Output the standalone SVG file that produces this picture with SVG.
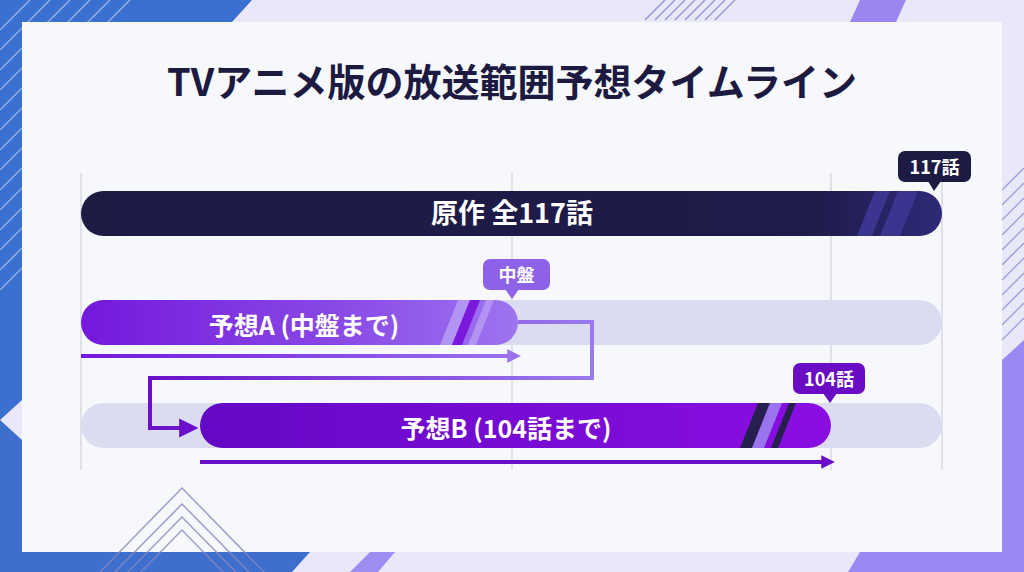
<svg xmlns="http://www.w3.org/2000/svg" width="1024" height="572" viewBox="0 0 1024 572">
  <defs>
    <style>
      .t { font-family: "Noto Sans CJK JP", "Noto Sans", sans-serif; font-weight: 700; }
      .grid { stroke: #c9c9d8; stroke-width: 1; }
      .track { fill: #dcdcf0; }
      .lbl { fill: #ffffff; text-anchor: middle; }
      .hatch { stroke: #ffffff; stroke-opacity: 0.45; stroke-width: 1.5; }
      .hatch2 { stroke: #8a86b8; stroke-width: 1.5; fill: none; }
    </style>
    <linearGradient id="gNavy" x1="0" x2="1" y1="0" y2="0">
      <stop offset="0" stop-color="#1d1a44"/>
      <stop offset="0.85" stop-color="#1f1b4a"/>
      <stop offset="1" stop-color="#2e2a78"/>
    </linearGradient>
    <linearGradient id="gA" x1="0" x2="1" y1="0" y2="0">
      <stop offset="0" stop-color="#7418dc"/>
      <stop offset="0.6" stop-color="#8a4ae6"/>
      <stop offset="1" stop-color="#9d74f0"/>
    </linearGradient>
    <linearGradient id="gB" x1="0" x2="1" y1="0" y2="0">
      <stop offset="0" stop-color="#6408c4"/>
      <stop offset="1" stop-color="#8a0ee2"/>
    </linearGradient>
    <linearGradient id="gArrA" x1="81" x2="522" y1="0" y2="0" gradientUnits="userSpaceOnUse">
      <stop offset="0" stop-color="#7418dc"/>
      <stop offset="1" stop-color="#9a72ee"/>
    </linearGradient>
    <linearGradient id="gConn" x1="150" x2="592" y1="0" y2="0" gradientUnits="userSpaceOnUse">
      <stop offset="0" stop-color="#6a10c8"/>
      <stop offset="1" stop-color="#9b7af0"/>
    </linearGradient>
    <clipPath id="c1"><rect x="81" y="191" width="861" height="45" rx="22.5"/></clipPath>
    <clipPath id="cA"><rect x="81" y="300" width="437" height="45" rx="22.5"/></clipPath>
    <clipPath id="cB"><rect x="200" y="403" width="631" height="45" rx="22.5"/></clipPath>
    <marker id="mA" viewBox="0 0 10 10" refX="2" refY="5" markerWidth="3.4" markerHeight="3.8" orient="auto" markerUnits="strokeWidth">
      <path d="M0,0 L10,5 L0,10 z" fill="#9a72ee"/>
    </marker>
    <marker id="mB" viewBox="0 0 10 10" refX="2" refY="5" markerWidth="3.4" markerHeight="3.8" orient="auto" markerUnits="strokeWidth">
      <path d="M0,0 L10,5 L0,10 z" fill="#6a0dc8"/>
    </marker>
    <marker id="mC" viewBox="0 0 10 10" refX="2" refY="5" markerWidth="4.8" markerHeight="5.4" orient="auto" markerUnits="strokeWidth">
      <path d="M0,0 L10,5 L0,10 z" fill="#6a10c8"/>
    </marker>
  </defs>

  <!-- background -->
  <rect x="0" y="0" width="1024" height="572" fill="#e9e8f8"/>
  <g id="bg-decor">
    <polygon points="0,0 252,0 232,22 22,22 22,400 0,420" fill="#3b6fd0"/>
    <g class="hatch">
      <line x1="0" y1="30" x2="30" y2="0"/><line x1="0" y1="50" x2="50" y2="0"/>
      <line x1="0" y1="70" x2="70" y2="0"/><line x1="0" y1="90" x2="90" y2="0"/>
      <line x1="0" y1="110" x2="110" y2="0"/><line x1="0" y1="130" x2="130" y2="0"/>
      <line x1="0" y1="150" x2="22" y2="128"/><line x1="0" y1="170" x2="22" y2="148"/>
      <line x1="0" y1="190" x2="22" y2="168"/><line x1="0" y1="210" x2="22" y2="188"/>
      <line x1="0" y1="230" x2="22" y2="208"/><line x1="0" y1="250" x2="22" y2="228"/>
      <line x1="0" y1="270" x2="22" y2="248"/><line x1="0" y1="290" x2="22" y2="268"/>
    </g>
    <polygon points="0,420 22,440 22,552 310,552 292,572 0,572" fill="#3f6fce"/>
    <polygon points="350,572 370,552 395,552 378,572" fill="#9d8df0"/>
    <g stroke="#9c95d8" stroke-width="1.5">
      <line x1="645" y1="20" x2="665" y2="0"/><line x1="655" y1="20" x2="675" y2="0"/>
      <line x1="665" y1="20" x2="685" y2="0"/><line x1="675" y1="20" x2="695" y2="0"/>
      <line x1="685" y1="20" x2="705" y2="0"/><line x1="695" y1="20" x2="715" y2="0"/>
      <line x1="705" y1="20" x2="725" y2="0"/><line x1="715" y1="20" x2="735" y2="0"/>
    </g>
    <polygon points="860,0 906,0 896,22 850,22" fill="#9b86f0"/>
    <g stroke="#a49ed8" stroke-width="1.5">
      <line x1="1002" y1="190" x2="1024" y2="168"/><line x1="1002" y1="205" x2="1024" y2="183"/>
      <line x1="1002" y1="220" x2="1024" y2="198"/><line x1="1002" y1="235" x2="1024" y2="213"/>
      <line x1="1002" y1="250" x2="1024" y2="228"/><line x1="1002" y1="265" x2="1024" y2="243"/>
      <line x1="1002" y1="280" x2="1024" y2="258"/><line x1="1002" y1="295" x2="1024" y2="273"/>
      <line x1="1002" y1="310" x2="1024" y2="288"/><line x1="1002" y1="325" x2="1024" y2="303"/>
      <line x1="1002" y1="340" x2="1024" y2="318"/>
    </g>
    <polygon points="1024,340 1002,360 1002,552 860,552 848,572 1024,572" fill="#9c88f2"/>
  </g>

  <!-- card -->
  <rect x="22" y="22" width="980" height="530" fill="#f6f8fc"/>
  <g class="hatch2" stroke-opacity="0.8">
    <polyline points="100,572 182,488 264,572"/>
    <polyline points="115,572 182,504 249,572"/>
    <polyline points="128,572 182,517 236,572"/>
    <polyline points="141,572 182,530 223,572"/>
  </g>

  <text class="t" x="512" y="96" font-size="38" fill="#1c1a40" text-anchor="middle">TVアニメ版の放送範囲予想タイムライン</text>

  <!-- grid -->
  <g id="grid" class="grid">
    <line x1="81" y1="173" x2="81" y2="470"/>
    <line x1="512" y1="173" x2="512" y2="470"/>
    <line x1="831" y1="173" x2="831" y2="470"/>
    <line x1="942" y1="173" x2="942" y2="470"/>
  </g>

  <!-- tracks -->
  <rect class="track" x="81" y="300" width="861" height="45" rx="22.5"/>
  <rect class="track" x="81" y="403" width="861" height="45" rx="22.5"/>

  <g id="bar-original">
    <rect x="81" y="191" width="861" height="45" rx="22.5" fill="url(#gNavy)"/>
    <g clip-path="url(#c1)">
      <polygon points="857,236 872,236 890,191 875,191" fill="#3b3590"/>
      <polygon points="880,236 900,236 918,191 898,191" fill="#3b3590"/>
    </g>
    <text class="t lbl" x="512" y="223" font-size="27">原作 全117話</text>
  </g>

  <g id="callout-117">
    <rect x="898" y="151" width="73" height="31" rx="7" fill="#1d1a44"/>
    <polygon points="928,181 941,181 934,191" fill="#1d1a44"/>
    <text class="t lbl" x="934.5" y="173.5" font-size="18">117話</text>
  </g>

  <g id="bar-a">
    <rect x="81" y="300" width="437" height="45" rx="22.5" fill="url(#gA)"/>
    <g clip-path="url(#cA)">
      <polygon points="440,345 452,345 470,300 458,300" fill="#b194f4"/>
      <polygon points="452,345 462,345 480,300 470,300" fill="#7a18dc"/>
      <polygon points="468,345 476,345 494,300 486,300" fill="#b194f4"/>
    </g>
    <text class="t lbl" x="304" y="335" font-size="25">予想A (中盤まで)</text>
  </g>

  <g id="callout-mid">
    <rect x="483" y="259" width="67" height="31" rx="7" fill="#8d62e6"/>
    <polygon points="505,289 519,289 512,299" fill="#8d62e6"/>
    <text class="t lbl" x="516.5" y="281.5" font-size="18">中盤</text>
  </g>

  <g id="bar-b">
    <rect x="200" y="403" width="631" height="45" rx="22.5" fill="url(#gB)"/>
    <g clip-path="url(#cB)">
      <polygon points="740,448 752,448 770,403 758,403" fill="#27204e"/>
      <polygon points="752,448 764,448 782,403 770,403" fill="#9a74ee"/>
      <polygon points="771,448 778,448 796,403 789,403" fill="#27204e"/>
    </g>
    <text class="t lbl" x="506" y="438" font-size="25">予想B (104話まで)</text>
  </g>

  <g id="callout-104">
    <rect x="793" y="363" width="72" height="31" rx="7" fill="#6a0cc4"/>
    <polygon points="823,393 837,393 830,403" fill="#6a0cc4"/>
    <text class="t lbl" x="829" y="385.5" font-size="18">104話</text>
  </g>

  <!-- connectors -->
  <g id="connectors" fill="none">
    <line x1="81" y1="356" x2="510" y2="356" stroke="url(#gArrA)" stroke-width="4" marker-end="url(#mA)"/>
    <polyline points="518,322 592,322 592,378 150,378 150,428 183,428" stroke="url(#gConn)" stroke-width="4" marker-end="url(#mC)"/>
    <line x1="200" y1="462" x2="824" y2="462" stroke="#6a0dc8" stroke-width="4" marker-end="url(#mB)"/>
  </g>
</svg>
